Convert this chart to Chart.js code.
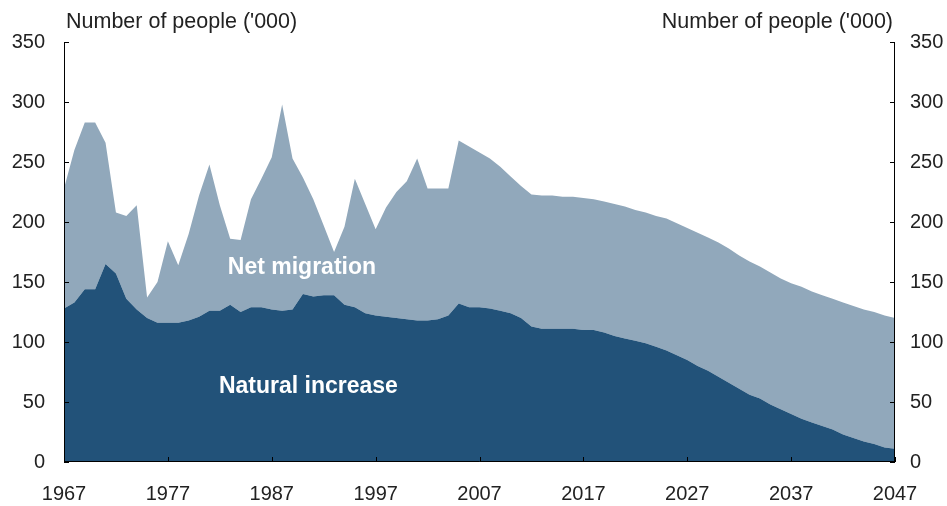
<!DOCTYPE html>
<html>
<head>
<meta charset="utf-8">
<script src="https://cdn.jsdelivr.net/npm/chart.js@4/dist/chart.umd.min.js"></script>
<style>
  html, body { margin: 0; padding: 0; background: #fff; }
  #wrap { width: 947px; height: 506px; }
</style>
</head>
<body>
<div id="wrap"><canvas id="c" width="947" height="506"></canvas></div>
<script>
const years = ["1967","1968","1969","1970","1971","1972","1973","1974","1975","1976",
  "1977","1978","1979","1980","1981","1982","1983","1984","1985","1986",
  "1987","1988","1989","1990","1991","1992","1993","1994","1995","1996",
  "1997","1998","1999","2000","2001","2002","2003","2004","2005","2006",
  "2007","2008","2009","2010","2011","2012","2013","2014","2015","2016",
  "2017","2018","2019","2020","2021","2022","2023","2024","2025","2026",
  "2027","2028","2029","2030","2031","2032","2033","2034","2035","2036",
  "2037","2038","2039","2040","2041","2042","2043","2044","2045","2046","2047"];

const naturalIncrease = [128,133,144,144,165,157,136,127,120,116,
  116,116,118,121,126,126,131,125,129,129,
  127,126,127,140,138,139,139,131,129,124,
  122,121,120,119,118,118,119,122,132,129,
  129,128,126,124,120,113,111,111,111,111,
  110,110,108,105,103,101,99,96,93,89,
  85,80,76,71,66,61,56,53,48,44,
  40,36,33,30,27,23,20,17,15,12,11];

const netMigration = [100,127,139,139,101,51,69,87,17,34,
  68,48,72,101,122,88,55,60,90,107,
  127,172,126,97,81,58,36,65,107,91,
  72,91,105,115,135,110,109,106,136,134,
  129,125,120,114,110,110,111,111,110,110,
  110,109,109,110,110,109,109,109,110,110,
  110,111,111,112,112,111,111,110,110,109,
  109,110,109,109,109,110,110,110,110,110,109];

const yTicks = [0,50,100,150,200,250,300,350];
const xTickLabels = ["1967","1977","1987","1997","2007","2017","2027","2037","2047"];
const axisTitle = "Number of people ('000)";
const seriesNames = ["Natural increase","Net migration"];

const FONT = "'Liberation Sans', Arial, sans-serif";
const TEXT = '#222';

const decor = {
  id: 'decor',
  afterDatasetsDraw(chart) {
    const ctx = chart.ctx;
    const ca = chart.chartArea;
    const x = chart.scales.x, y = chart.scales.y, y2 = chart.scales.y2;
    ctx.save();
    ctx.strokeStyle = '#000';
    ctx.lineWidth = 1;
    // axis lines
    ctx.beginPath();
    ctx.moveTo(Math.round(ca.left) + 0.5, ca.top);
    ctx.lineTo(Math.round(ca.left) + 0.5, ca.bottom);
    ctx.moveTo(Math.round(ca.right) - 0.5, ca.top);
    ctx.lineTo(Math.round(ca.right) - 0.5, ca.bottom);
    ctx.moveTo(ca.left, Math.round(ca.bottom) - 0.5);
    ctx.lineTo(ca.right, Math.round(ca.bottom) - 0.5);
    ctx.stroke();
    // inward ticks
    ctx.beginPath();
    yTicks.forEach(v => {
      const py = Math.round(y.getPixelForValue(v)) + 0.5;
      ctx.moveTo(ca.left, py); ctx.lineTo(ca.left + 5, py);
      const py2 = Math.round(y2.getPixelForValue(v)) + 0.5;
      ctx.moveTo(ca.right, py2); ctx.lineTo(ca.right - 5, py2);
    });
    xTickLabels.forEach(lbl => {
      const px = Math.round(x.getPixelForValue(years.indexOf(lbl))) + 0.5;
      ctx.moveTo(px, ca.bottom); ctx.lineTo(px, ca.bottom - 5);
    });
    ctx.stroke();
    // axis titles
    ctx.fillStyle = TEXT;
    ctx.font = '21.5px ' + FONT;
    ctx.textBaseline = 'alphabetic';
    ctx.textAlign = 'left';
    ctx.fillText(axisTitle, ca.left + 2, 28);
    ctx.textAlign = 'right';
    ctx.fillText(axisTitle, ca.right - 2, 28);
    // series labels
    ctx.fillStyle = '#fff';
    ctx.font = 'bold 23px ' + FONT;
    ctx.textAlign = 'center';
    ctx.textBaseline = 'middle';
    ctx.fillText(seriesNames[1], x.getPixelForValue(years.indexOf("1990")) - 1, y.getPixelForValue(162));
    ctx.fillText(seriesNames[0], x.getPixelForValue(years.indexOf("1990")) + 5.5, y.getPixelForValue(63));
    ctx.restore();
  }
};

new Chart(document.getElementById('c'), {
  type: 'line',
  data: {
    labels: years,
    datasets: [
      { label: seriesNames[0], data: naturalIncrease, backgroundColor: '#225279', borderWidth: 0, pointRadius: 0, fill: 'origin', tension: 0 },
      { label: seriesNames[1], data: netMigration, backgroundColor: '#91a8bb', borderWidth: 0, pointRadius: 0, fill: '-1', tension: 0 }
    ]
  },
  options: {
    responsive: false,
    devicePixelRatio: 1,
    animation: false,
    layout: { padding: { top: 42, left: 0, right: 0, bottom: 0 } },
    plugins: { legend: { display: false }, tooltip: { enabled: false } },
    scales: {
      x: {
        type: 'category',
        offset: false,
        grid: { display: false, drawTicks: false },
        border: { display: false },
        ticks: {
          autoSkip: false, maxRotation: 0, padding: 20,
          color: TEXT, font: { family: FONT, size: 20 },
          callback: function(v, i) { const l = years[i]; return xTickLabels.includes(l) ? l : null; }
        },
        afterFit(s) { s.height = 44; }
      },
      y: {
        position: 'left', stacked: true, min: 0, max: 350,
        grid: { display: false, drawTicks: false },
        border: { display: false },
        ticks: { stepSize: 50, padding: 19, color: TEXT, font: { family: FONT, size: 20 } },
        afterFit(s) { s.width = 64; }
      },
      y2: {
        position: 'right', min: 0, max: 350,
        grid: { display: false, drawTicks: false },
        border: { display: false },
        ticks: { stepSize: 50, padding: 15, color: TEXT, font: { family: FONT, size: 20 } },
        afterFit(s) { s.width = 52; }
      }
    }
  },
  plugins: [decor]
});
</script>
</body>
</html>
